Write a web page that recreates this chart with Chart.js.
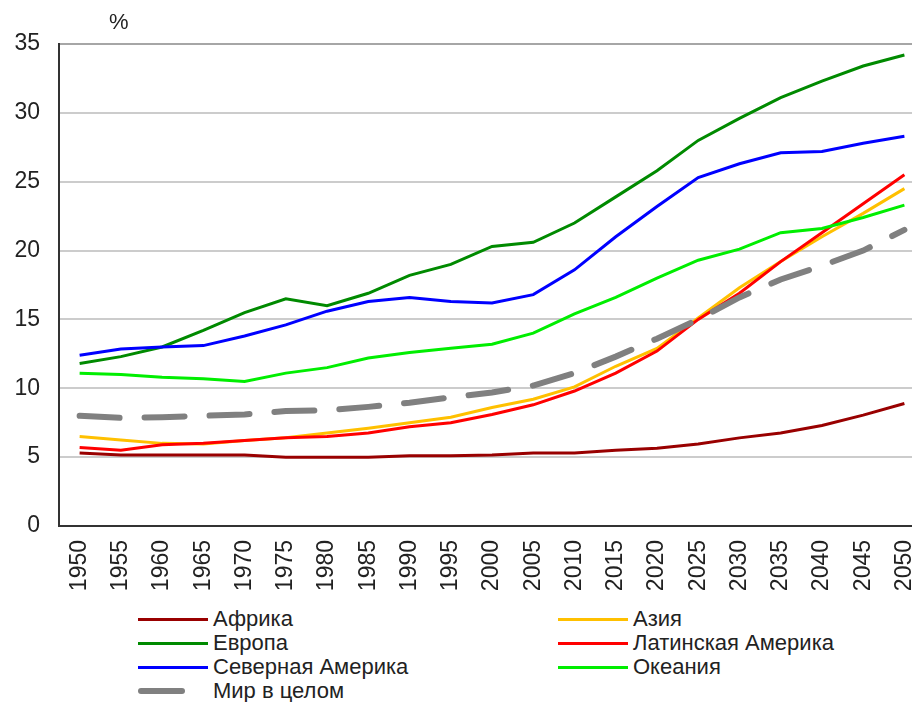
<!DOCTYPE html>
<html lang="ru">
<head>
<meta charset="utf-8">
<title>Доля населения</title>
<script src="https://cdn.jsdelivr.net/npm/chart.js@4/dist/chart.umd.min.js"></script>
<style>
    body {
        margin: 0;
        background: #fff;
        overflow: hidden;
        font-family: "Liberation Sans", Arial, sans-serif;
    }
    #wrap {
        position: relative;
        width: 912px;
        height: 702px;
        overflow: hidden;
    }
    #chart {
        position: absolute;
        left: 0;
        top: 0;
    }
    #unit {
        position: absolute;
        left: 109px;
        top: 9px;
        font-size: 22px;
        color: #222;
    }
    .legend-item {
        position: absolute;
        height: 24px;
        display: flex;
        align-items: center;
        font-size: 22px;
        color: #222;
        white-space: nowrap;
    }
    .legend-line {
        width: 70px;
        height: 3px;
        margin-right: 5px;
    }
</style>
</head>
<body>
<div id="wrap">
    <canvas id="chart" width="946" height="600"></canvas>
    <div id="unit">%</div>
    <div id="legend"></div>
</div>

<script>
// Years on the x axis
const years = ['1950', '1955', '1960', '1965', '1970', '1975', '1980', '1985', '1990', '1995', '2000',
    '2005', '2010', '2015', '2020', '2025', '2030', '2035', '2040', '2045', '2050'];

// Series values, %
const africa = [5.3, 5.15, 5.15, 5.15, 5.15, 5.0, 5.0, 5.0, 5.1, 5.1, 5.15, 5.3, 5.3, 5.5, 5.65, 5.95, 6.4, 6.75, 7.3, 8.05, 8.9];
const asia = [6.5, 6.25, 6.0, 5.95, 6.2, 6.4, 6.75, 7.1, 7.5, 7.9, 8.6, 9.2, 10.1, 11.6, 12.9, 15.1, 17.3, 19.2, 21.0, 22.7, 24.5];
const europe = [11.8, 12.3, 13.0, 14.2, 15.5, 16.5, 16.0, 16.9, 18.2, 19.0, 20.3, 20.6, 22.0, 23.9, 25.8, 28.0, 29.6, 31.1, 32.3, 33.4, 34.2];
const latinAmerica = [5.7, 5.5, 5.9, 6.0, 6.2, 6.4, 6.5, 6.75, 7.2, 7.5, 8.1, 8.8, 9.8, 11.1, 12.7, 15.0, 16.9, 19.2, 21.3, 23.4, 25.5];
const northAmerica = [12.4, 12.85, 13.0, 13.1, 13.8, 14.6, 15.6, 16.3, 16.6, 16.3, 16.2, 16.8, 18.6, 21.0, 23.2, 25.3, 26.3, 27.1, 27.2, 27.8, 28.3];
const oceania = [11.1, 11.0, 10.8, 10.7, 10.5, 11.1, 11.5, 12.2, 12.6, 12.9, 13.2, 14.0, 15.4, 16.6, 18.0, 19.3, 20.1, 21.3, 21.6, 22.4, 23.3];
const world = [8.0, 7.85, 7.9, 8.0, 8.1, 8.35, 8.4, 8.65, 8.95, 9.35, 9.7, 10.2, 11.1, 12.3, 13.6, 15.0, 16.6, 17.9, 18.9, 20.0, 21.5];

// Y axis ticks
const yTicks = [0, 5, 10, 15, 20, 25, 30, 35];

const FONT = '"Liberation Sans", Arial, sans-serif';

const series = [
    { label: 'Африка', data: africa, color: '#990000' },
    { label: 'Азия', data: asia, color: '#ffc000' },
    { label: 'Европа', data: europe, color: '#008a00' },
    { label: 'Латинская Америка', data: latinAmerica, color: '#ff0000' },
    { label: 'Северная Америка', data: northAmerica, color: '#0000ff' },
    { label: 'Океания', data: oceania, color: '#00ee00' },
    { label: 'Мир в целом', data: world, color: '#808080', dashed: true }
];

const datasets = series.map((s, i) => ({
    label: s.label,
    data: s.data,
    borderColor: s.color,
    backgroundColor: s.color,
    borderWidth: s.dashed ? 6 : 3,
    borderDash: s.dashed ? [40, 25] : [],
    borderCapStyle: s.dashed ? 'round' : 'butt',
    pointRadius: 0,
    tension: 0,
    fill: false,
    // later series drawn on top, like the original
    order: series.length - i
}));

const chart = new Chart(document.getElementById('chart'), {
    type: 'line',
    data: { labels: years, datasets: datasets },
    options: {
        responsive: false,
        animation: false,
        devicePixelRatio: 1,
        layout: { padding: { top: 44, right: 0, left: 0, bottom: 0 } },
        plugins: {
            legend: { display: false },
            tooltip: { enabled: false }
        },
        scales: {
            x: {
                offset: true,
                grid: { display: false, drawTicks: false },
                border: { display: true, color: '#333', width: 2 },
                ticks: {
                    minRotation: 90,
                    maxRotation: 90,
                    padding: 14,
                    color: '#222',
                    font: { family: FONT, size: 23 }
                },
                afterFit: (scale) => { scale.height = 74; }
            },
            y: {
                min: 0,
                max: 35,
                afterBuildTicks: (scale) => {
                    scale.ticks = yTicks.map(v => ({ value: v }));
                },
                grid: {
                    drawTicks: false,
                    lineWidth: 2,
                    color: (ctx) => {
                        if (ctx.tick && ctx.tick.value === 35) return '#a6a6a6';
                        if (ctx.tick && ctx.tick.value === 0) return 'rgba(0,0,0,0)';
                        return '#cccccc';
                    }
                },
                border: { display: true, color: '#333', width: 2 },
                ticks: {
                    padding: 19,
                    color: '#222',
                    font: { family: FONT, size: 23 }
                },
                afterFit: (scale) => { scale.width = 59; }
            }
        }
    }
});

// Legend in two columns below the chart
const legendBox = document.getElementById('legend');
const colX = [138, 558];
const rowY = 607;
const rowStep = 24;

chart.data.datasets.forEach((ds, i) => {
    const item = document.createElement('div');
    item.className = 'legend-item';
    item.style.left = colX[i % 2] + 'px';
    item.style.top = (rowY + Math.floor(i / 2) * rowStep) + 'px';

    const line = document.createElement('div');
    line.className = 'legend-line';
    line.style.background = ds.borderColor;
    if (ds.borderDash.length) {
        line.style.width = '47px';
        line.style.height = '6px';
        line.style.borderRadius = '3px';
        line.style.marginRight = '28px';
    }

    const text = document.createElement('span');
    text.textContent = ds.label;

    item.appendChild(line);
    item.appendChild(text);
    legendBox.appendChild(item);
});
</script>
</body>
</html>
